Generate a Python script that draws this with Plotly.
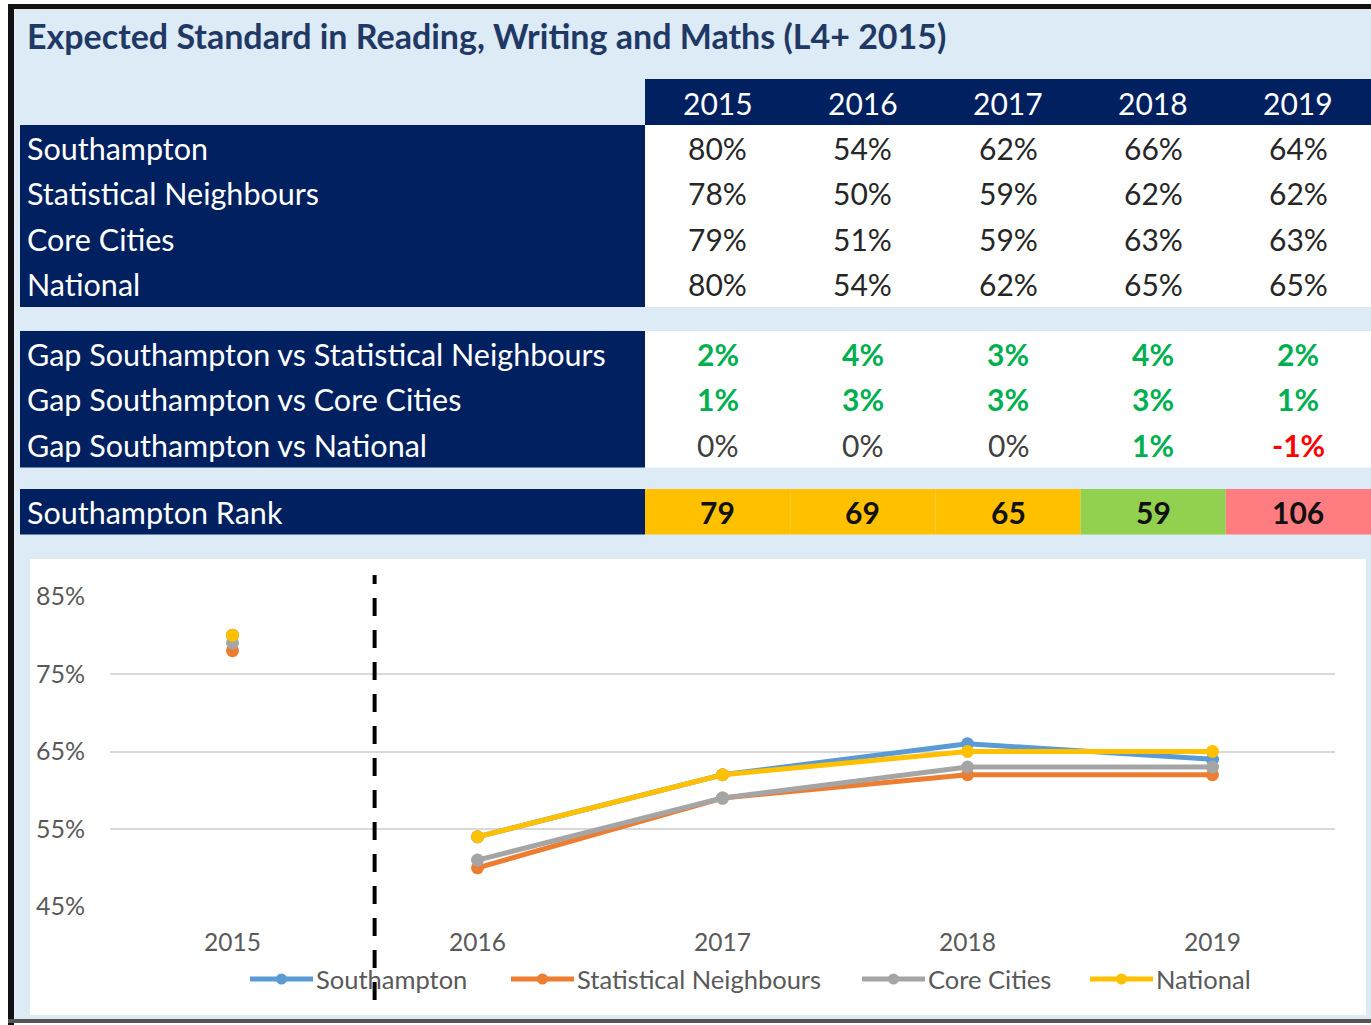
import plotly.graph_objects as go

# table / chart data
years = ["2015", "2016", "2017", "2018", "2019"]
series_names = ["Southampton", "Statistical Neighbours", "Core Cities", "National"]
southampton = [80, 54, 62, 66, 64]
stat_neighbours = [78, 50, 59, 62, 62]
core_cities = [79, 51, 59, 63, 63]
national = [80, 54, 62, 65, 65]
rank = [79, 69, 65, 59, 106]
y_ticks = [45, 55, 65, 75, 85]

title = "Expected Standard in Reading, Writing and Maths (L4+ 2015)"

# styles
W, H = 1371, 1025
NAVY = "#002060"
PALE = "#DDEBF7"
FONT = "Lato"
line_colors = ["#5B9BD5", "#ED7D31", "#A5A5A5", "#FFC000"]
rank_colors = ["#FFC000", "#FFC000", "#FFC000", "#92D050", "#FF7C80"]


def px(x):
    return x / W


def py(y):
    return 1 - y / H


shapes = []
annotations = []


def rect(x0, y0, x1, y1, color, layer="below"):
    shapes.append(dict(type="rect", xref="paper", yref="paper",
                       x0=px(x0), x1=px(x1), y0=py(y1), y1=py(y0),
                       fillcolor=color, line=dict(width=0), layer=layer))


def text(x, y, s, size=30.5, color="white", anchor="center", bold=False):
    if bold:
        s = "<b>" + s + "</b>"
    annotations.append(dict(xref="paper", yref="paper", x=px(x), y=py(y), text=s,
                            showarrow=False, xanchor=anchor, yanchor="middle",
                            font=dict(family=FONT, size=size, color=color)))


# frame + background
rect(14, 9, W, 1019, PALE)
rect(8, 4, W, 9, "#111111")
rect(8, 4, 14, H, "#111111")
rect(8, 1019, W, 1023, "#555555")

text(25, 35, title, size=34, color="#1F3864", anchor="left", bold=True)

col_left = 645
col_w = (W - col_left) / len(years)
col_mid = [col_left + col_w * (i + 0.5) for i in range(len(years))]

# header row
rect(col_left, 79, W, 125, NAVY)
for i, yr in enumerate(years):
    text(col_mid[i], 103, yr, size=30)

# value rows
row_h = 45.5
all_series = [southampton, stat_neighbours, core_cities, national]
top = 125
rect(20, top, col_left, top + row_h * 4, NAVY)
rect(col_left, top, W, top + row_h * 4, "white")
for r, (name, vals) in enumerate(zip(series_names, all_series)):
    yc = top + row_h * (r + 0.5)
    text(25, yc, name, anchor="left")
    for i, v in enumerate(vals):
        text(col_mid[i], yc, f"{v}%", size=30, color="#262626")

# gap rows
gap_labels = ["Gap Southampton vs Statistical Neighbours",
              "Gap Southampton vs Core Cities",
              "Gap Southampton vs National"]
top = 331
rect(20, top, col_left, top + row_h * 3, NAVY)
rect(col_left, top, W, top + row_h * 3, "white")
for r, other in enumerate([stat_neighbours, core_cities, national]):
    yc = top + row_h * (r + 0.5)
    text(25, yc, gap_labels[r], anchor="left")
    for i in range(len(years)):
        d = southampton[i] - other[i]
        c = "#00B050" if d > 0 else ("#FF0000" if d < 0 else "#404040")
        text(col_mid[i], yc, f"{d}%", size=30, color=c, bold=d != 0)

# rank row
top = 489
rect(20, top, col_left, top + row_h, NAVY)
text(25, top + row_h / 2, "Southampton Rank", anchor="left")
for i, v in enumerate(rank):
    rect(col_left + col_w * i, top, col_left + col_w * (i + 1), top + row_h, rank_colors[i])
    text(col_mid[i], top + row_h / 2, str(v), size=30, color="#111111", bold=True)

# chart panel
rect(30, 559, 1366, 1015, "white")

fig = go.Figure()
xs = list(range(len(years)))
for name, vals, c in zip(series_names, all_series, line_colors):
    # 2015 is a separate point, lines start in 2016
    x = [xs[0], None] + xs[1:]
    y = [vals[0], None] + vals[1:]
    fig.add_trace(go.Scatter(x=x, y=y, name=name, mode="lines+markers",
                             connectgaps=False, showlegend=False,
                             line=dict(color=c, width=5),
                             marker=dict(color=c, size=13)))

# legend drawn by hand so the sample lines are as long as in the original
leg_y = 979
leg_starts = [250, 511, 862, 1090]
for name, c, x0 in zip(series_names, line_colors, leg_starts):
    shapes.append(dict(type="line", xref="paper", yref="paper", x0=px(x0), x1=px(x0 + 63),
                       y0=py(leg_y), y1=py(leg_y), line=dict(color=c, width=5), layer="above"))
    shapes.append(dict(type="circle", xref="paper", yref="paper",
                       x0=px(x0 + 26), x1=px(x0 + 37), y0=py(leg_y + 5.5), y1=py(leg_y - 5.5),
                       fillcolor=c, line=dict(width=0), layer="above"))
    text(x0 + 64, leg_y, name, size=25.5, color="#595959", anchor="left")

# dashed divider between 2015 and 2016
shapes.append(dict(type="line", xref="x", yref="paper", x0=0.58, x1=0.58,
                   y0=py(1000), y1=py(575), line=dict(color="black", width=4, dash="18px,14px"),
                   layer="above"))

fig.update_layout(
    width=W, height=H,
    margin=dict(l=0, r=0, t=0, b=0, autoexpand=False),
    paper_bgcolor="white",
    plot_bgcolor="white",
    shapes=shapes,
    annotations=annotations,
    showlegend=False,
    xaxis=dict(domain=[px(110), px(1335)], range=[-0.5, 4.5], automargin=False,
               tickvals=xs, ticktext=years, showgrid=False, zeroline=False,
               ticklabelstandoff=18,
               tickfont=dict(family=FONT, size=24.5, color="#595959")),
    yaxis=dict(domain=[py(907), py(596)], range=[44.95, 85.05], automargin=False,
               tickvals=y_ticks, ticktext=[f"{v}%" for v in y_ticks],
               showgrid=True, gridcolor="#D9D9D9", gridwidth=2, zeroline=False,
               ticklabelstandoff=24,
               tickfont=dict(family=FONT, size=25, color="#595959")),
)

fig.write_html("out.html", config={"displayModeBar": False},
               post_script="document.body.style.margin='0';document.body.style.overflow='hidden';")
